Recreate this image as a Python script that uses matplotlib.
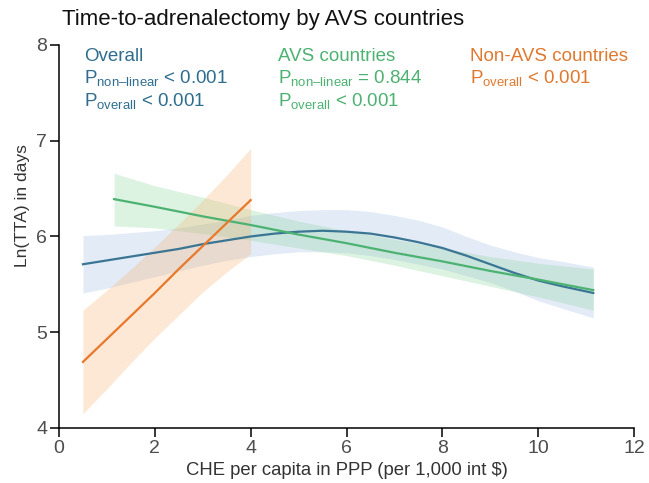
import numpy as np
import matplotlib
matplotlib.use('Agg')
import matplotlib.pyplot as plt

plt.rcParams['font.family'] = ['Liberation Sans', 'DejaVu Sans']
plt.rcParams['mathtext.fontset'] = 'custom'
plt.rcParams['mathtext.rm'] = 'Liberation Sans'
plt.rcParams['mathtext.it'] = 'Liberation Sans:italic'
plt.rcParams['mathtext.bf'] = 'Liberation Sans:bold'

# Overall (restricted cubic spline fit)
overall_x = [0.5, 1, 1.5, 2, 2.5, 3, 3.5, 4, 4.5, 5, 5.5, 6, 6.5, 7, 7.5, 8, 8.5, 9, 9.5, 10, 10.5, 11.15]
overall_y = [5.71, 5.75, 5.79, 5.83, 5.87, 5.92, 5.96, 6.00, 6.03, 6.05, 6.06, 6.05, 6.03, 5.99, 5.94, 5.88,
             5.80, 5.71, 5.62, 5.54, 5.48, 5.41]
overall_hi = [6.01, 6.02, 6.04, 6.06, 6.09, 6.13, 6.17, 6.22, 6.25, 6.27, 6.28, 6.28, 6.26, 6.22, 6.17, 6.10,
              6.00, 5.91, 5.84, 5.78, 5.74, 5.68]
overall_lo = [5.41, 5.46, 5.52, 5.58, 5.64, 5.70, 5.75, 5.79, 5.82, 5.84, 5.84, 5.83, 5.80, 5.76, 5.71, 5.66,
              5.59, 5.52, 5.43, 5.33, 5.25, 5.15]

# AVS countries
avs_x = [1.15, 2, 3, 4, 5, 6, 7, 8, 9, 10, 11.15]
avs_y = [6.39, 6.31, 6.21, 6.12, 6.02, 5.93, 5.83, 5.74, 5.64, 5.55, 5.44]
avs_hi = [6.66, 6.53, 6.41, 6.28, 6.16, 6.06, 5.97, 5.88, 5.79, 5.72, 5.66]
avs_lo = [6.11, 6.09, 6.03, 5.96, 5.88, 5.80, 5.70, 5.59, 5.48, 5.37, 5.23]

# Non-AVS countries
non_x = [0.5, 1, 1.5, 2, 2.5, 3, 3.5, 4]
non_y = [4.69, 4.93, 5.17, 5.41, 5.66, 5.90, 6.14, 6.38]
non_hi = [5.23, 5.44, 5.66, 5.89, 6.13, 6.38, 6.64, 6.92]
non_lo = [4.15, 4.41, 4.68, 4.94, 5.18, 5.42, 5.63, 5.82]

blue, green, orange = '#3a7693', '#4cb272', '#e8782a'

fig = plt.figure(figsize=(6.49, 4.83), dpi=100)
ax = fig.add_axes([0.0909, 0.1139, 0.886, 0.793])

ax.fill_between(overall_x, overall_lo, overall_hi, color='#a3bde3', alpha=0.3, lw=0)
ax.fill_between(avs_x, avs_lo, avs_hi, color='#86d49a', alpha=0.28, lw=0)
ax.fill_between(non_x, non_lo, non_hi, color='#fbaf6b', alpha=0.28, lw=0)
ax.plot(overall_x, overall_y, color=blue, lw=1.6)
ax.plot(avs_x, avs_y, color=green, lw=1.6)
ax.plot(non_x, non_y, color=orange, lw=1.6)

ax.set_xlim(0, 12)
ax.set_ylim(4, 8)
ax.set_xticks(range(0, 13, 2))
ax.set_yticks(range(4, 9))
for s in ['top', 'right']:
    ax.spines[s].set_visible(False)
for s in ['left', 'bottom']:
    ax.spines[s].set_linewidth(1.1)
ax.tick_params(direction='out', length=6.5, width=1.1, labelsize=14, labelcolor='#4d4d4d', pad=2)
ax.set_xlabel('CHE per capita in PPP (per 1,000 int $)', fontsize=13.3, color='#333333', labelpad=4)
fig.text(0.035, 1 - 206 / 483, 'Ln(TTA) in days', rotation=90, fontsize=12.5, color='#333333',
         ha='center', va='center')

fig.text(62 / 649, 1 - 20 / 483, 'Time-to-adrenalectomy by AVS countries', fontsize=16,
         color='#111111', ha='left', va='center')

fs = 13.5
nl = r'P$_{\mathrm{non\u2013linear}}$'.replace('\\u2013', '\u2013')
ov = r'P$_{\mathrm{overall}}$'
ax.text(0.52, 7.833, 'Overall', color='#2e6d8e', fontsize=fs, va='baseline')
ax.text(0.52, 7.603, nl + ' < 0.001', color='#2e6d8e', fontsize=fs, va='baseline')
ax.text(0.52, 7.363, ov + ' < 0.001', color='#2e6d8e', fontsize=fs, va='baseline')
ax.text(4.57, 7.833, 'AVS countries', color=green, fontsize=fs, va='baseline')
ax.text(4.57, 7.603, nl + ' = 0.844', color=green, fontsize=fs, va='baseline')
ax.text(4.57, 7.363, ov + ' < 0.001', color=green, fontsize=fs, va='baseline')
ax.text(8.58, 7.833, 'Non-AVS countries', color='#e0782e', fontsize=fs, va='baseline')
ax.text(8.58, 7.603, ov + ' < 0.001', color='#e0782e', fontsize=fs, va='baseline')

fig.savefig('out.png', dpi=100)
